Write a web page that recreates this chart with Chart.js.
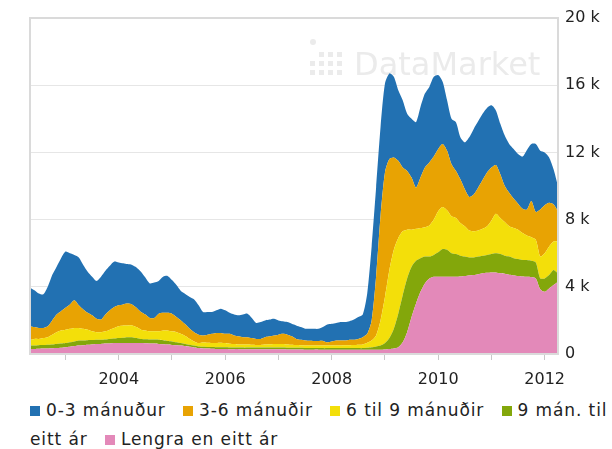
<!DOCTYPE html>
<html>
<head>
<meta charset="utf-8">
<script src="https://cdn.jsdelivr.net/npm/chart.js@4/dist/chart.umd.min.js"></script>
<style>
  body { margin: 0; background: #fff; }
  #wrap { position: relative; width: 612px; height: 449px; }
  #box { position: absolute; left: 0; top: 0; width: 612px; height: 392px; }
  #legend {
    position: absolute; left: 30px; top: 396px; width: 582px;
    font: 17px "DejaVu Sans", sans-serif; line-height: 29px; color: #222;
    letter-spacing: 0.9px;
  }
  #legend .item { margin-right: 11px; }
  #legend .sw { display: inline-block; width: 10px; height: 10px; margin-right: 6px; }
</style>
</head>
<body>
<div id="wrap">
  <div id="box"><canvas id="chart"></canvas></div>
  <div id="legend"></div>
</div>
<script>
// monthly, May 2002 - April 2012
const months = [];
for (let i = 0; i < 120; i++) months.push(2002 + (4 + i) / 12);

const yTicks = [0, 4000, 8000, 12000, 16000, 20000];

const blue = [
  2300, 2200, 2050, 2000, 2350, 2700, 2850, 3150, 3350, 3050,
  2700, 2850, 2650, 2450, 2300, 2250, 2550, 2600, 2650, 2700,
  2550, 2450, 2350, 2350, 2400, 2400, 2200, 2050, 2100, 1950,
  2150, 2200, 2000, 1900, 1750, 1800, 1900, 1950, 1750, 1400,
  1350, 1300, 1350, 1450, 1400, 1250, 1250, 1250, 1350, 1400,
  1200, 950, 1000, 1000, 1000, 1000, 850, 750, 750, 750,
  800, 750, 700, 710, 720, 730, 820, 1050, 1050, 1050,
  1100, 1100, 1100, 1200, 1300, 1350, 2400, 4400, 5300, 5300,
  5300, 5100, 4800, 4200, 4000, 3400, 3500, 3900, 4200, 4400,
  4500, 4750, 4400, 3700, 3000, 2700, 2900, 2500, 2800, 3550,
  3900, 3950, 3950, 3850, 3700, 3250, 3000, 3000, 2900, 2950,
  2950, 3100, 3550, 3400, 4050, 3500, 3150, 2700, 2100, 1500
];
const orange = [
  800, 700, 650, 600, 650, 850, 1050, 1150, 1300, 1450,
  1650, 1350, 1150, 1000, 950, 800, 750, 1000, 1150, 1250,
  1250, 1250, 1300, 1250, 1150, 1050, 950, 800, 800, 1050,
  1050, 1050, 1050, 900, 800, 700, 600, 550, 500, 420,
  480, 540, 590, 580, 550, 590, 510, 480, 440, 440,
  400, 360, 360, 440, 470, 500, 550, 600, 580, 500,
  370, 330, 300, 280, 270, 270, 280, 200, 250, 290,
  290, 280, 330, 320, 350, 430, 530, 1200, 3500, 6200,
  7400, 6600, 5500, 4600, 3800, 3500, 3100, 2450, 3000, 3550,
  3750, 3750, 3700, 3750, 3550, 3100, 2800, 2600, 2200, 2000,
  2200, 2550, 2900, 3200, 3150, 2900, 2600, 2150, 2000, 1750,
  1550, 1450, 1550, 2150, 1650, 2800, 2850, 2600, 2200, 1800
];
const yellow = [
  350, 400, 380, 420, 450, 580, 700, 780, 800, 800,
  800, 750, 700, 630, 520, 450, 450, 480, 550, 630,
  700, 730, 700, 700, 650, 550, 520, 480, 490, 500,
  580, 620, 600, 600, 550, 470, 350, 250, 200, 250,
  250, 250, 260, 270, 250, 220, 200, 180, 180, 180,
  170, 160, 160, 180, 200, 220, 220, 220, 200, 180,
  160, 150, 150, 150, 150, 140, 150, 150, 150, 160,
  160, 170, 170, 180, 200, 220, 300, 400, 650, 1500,
  2750, 4050, 4700, 4500, 3800, 2900, 2200, 1900, 1800, 1750,
  1850, 2100, 2450, 2500, 2350, 2200, 2150, 1950, 1800, 1600,
  1550, 1550, 1600, 1700, 2000, 2350, 2150, 2000, 1800, 1800,
  1750, 1600, 1450, 1400, 1350, 1300, 1500, 1700, 1700, 1900
];
const green = [
  200, 200, 210, 210, 220, 230, 250, 250, 250, 270,
  280, 300, 280, 270, 260, 260, 250, 250, 270, 270,
  300, 310, 340, 340, 300, 250, 240, 240, 240, 250,
  240, 220, 210, 180, 150, 130, 120, 110, 100, 100,
  100, 100, 100, 100, 100, 100, 100, 100, 100, 100,
  100, 100, 100, 100, 100, 100, 100, 100, 100, 100,
  100, 100, 100, 100, 100, 100, 100, 100, 100, 100,
  100, 100, 100, 100, 100, 100, 120, 150, 200, 250,
  380, 650, 1170, 2000, 2800, 3200, 3000, 2550, 2000, 1600,
  1300, 1300, 1450, 1650, 1600, 1400, 1350, 1230, 1150, 1070,
  1050, 1050, 1050, 1070, 1100, 1150, 1150, 1070, 1080, 1020,
  1000, 980, 1000, 970, 950, 650, 800, 800, 900, 500
];
const pink = [
  300, 300, 310, 320, 330, 340, 350, 370, 400, 430,
  470, 500, 520, 550, 570, 590, 600, 620, 630, 650,
  650, 660, 660, 660, 650, 650, 640, 630, 620, 600,
  580, 560, 540, 520, 500, 470, 430, 390, 350, 330,
  320, 310, 300, 300, 300, 290, 290, 290, 280, 280,
  280, 280, 280, 280, 280, 280, 280, 280, 270, 270,
  270, 270, 260, 260, 260, 260, 250, 250, 250, 250,
  250, 250, 250, 250, 250, 250, 250, 250, 250, 250,
  270, 300, 330, 400, 700, 1300, 2200, 3000, 3700, 4200,
  4500, 4600, 4600, 4600, 4600, 4600, 4600, 4620, 4650, 4680,
  4700, 4750, 4800, 4830, 4850, 4850, 4800, 4780, 4720, 4680,
  4650, 4620, 4600, 4580, 4500, 3850, 3700, 3900, 4100, 4300
];

// bottom of the stack first
const series = [
  { label: 'Lengra en eitt ár', data: pink, color: '#e389b9' },
  { label: '9 mán. til eitt ár', data: green, color: '#83a70b' },
  { label: '6 til 9 mánuðir', data: yellow, color: '#f3df0a' },
  { label: '3-6 mánuðir', data: orange, color: '#e8a303' },
  { label: '0-3 mánuður', data: blue, color: '#2271b2' },
];

const font = '"DejaVu Sans", sans-serif';

// light grey frame round the plot area
const framePlugin = {
  id: 'frame',
  afterDatasetsDraw(chart) {
    const { ctx, chartArea: a } = chart;
    ctx.save();
    ctx.strokeStyle = '#dadada';
    ctx.lineWidth = 2;
    ctx.strokeRect(a.left, a.top, a.right - a.left, a.bottom - a.top);
    ctx.restore();
  },
};

// DataMarket watermark behind the areas
const watermarkPlugin = {
  id: 'watermark',
  beforeDatasetsDraw(chart) {
    const { ctx } = chart;
    ctx.save();
    ctx.fillStyle = '#ebebeb';
    ctx.font = '32px ' + font;
    ctx.textBaseline = 'alphabetic';
    ctx.fillText('DataMarket', 354, 75);
    ctx.beginPath();
    ctx.arc(313, 42, 3, 0, Math.PI * 2);
    ctx.fill();
    const cells = [[1, 0], [2, 0], [3, 0], [0, 1], [1, 1], [2, 1], [3, 1], [0, 2], [1, 2], [2, 2], [3, 2]];
    cells.forEach(([c, r]) => ctx.fillRect(310 + c * 9, 52 + r * 9, 5, 5));
    ctx.restore();
  },
};

new Chart(document.getElementById('chart'), {
  type: 'line',
  data: {
    datasets: series.map((s, i) => ({
      label: s.label,
      data: months.map((m, j) => ({ x: m, y: s.data[j] })),
      backgroundColor: s.color,
      borderColor: s.color,
      borderWidth: 0,
      pointRadius: 0,
      tension: 0.25,
      fill: i === 0 ? 'origin' : '-1',
    })),
  },
  options: {
    responsive: true,
    maintainAspectRatio: false,
    animation: false,
    layout: { padding: { left: 30, top: 18, right: 0, bottom: 0 } },
    plugins: {
      legend: { display: false },
      tooltip: { enabled: false },
    },
    scales: {
      x: {
        type: 'linear',
        min: months[0],
        max: months[months.length - 1],
        afterFit: s => { s.height = 38; },
        grid: { drawOnChartArea: false, drawTicks: true, tickLength: 6, color: '#c8c8c8' },
        border: { display: false },
        ticks: {
          stepSize: 1,
          includeBounds: false,
          autoSkip: false,
          maxRotation: 0,
          padding: 10,
          color: '#222',
          font: { family: font, size: 16 },
          callback: v => (v % 2 === 0 ? String(v) : ''),
        },
      },
      y: {
        position: 'right',
        stacked: true,
        min: 0,
        max: 20000,
        afterFit: s => { s.width = 54; },
        afterBuildTicks: s => { s.ticks = yTicks.map(v => ({ value: v })); },
        grid: { color: '#e6e6e6', drawTicks: false },
        border: { display: false },
        ticks: {
          padding: 7,
          color: '#222',
          font: { family: font, size: 16 },
          callback: v => (v === 0 ? '0' : v / 1000 + ' k'),
        },
      },
    },
  },
  plugins: [watermarkPlugin, framePlugin],
});

// html legend, wraps like the original
const legend = document.getElementById('legend');
series.slice().reverse().forEach(s => {
  const item = document.createElement('span');
  item.className = 'item';
  const sw = document.createElement('span');
  sw.className = 'sw';
  sw.style.background = s.color;
  item.appendChild(sw);
  item.appendChild(document.createTextNode(s.label));
  legend.appendChild(item);
  legend.appendChild(document.createTextNode(' '));
});
</script>
</body>
</html>
